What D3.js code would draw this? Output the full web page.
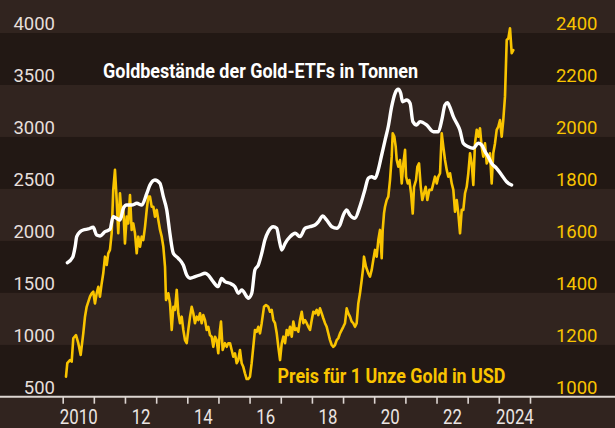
<!DOCTYPE html>
<html><head><meta charset="utf-8">
<script src="https://cdn.jsdelivr.net/npm/d3@7"></script>
<style>
html,body{margin:0;padding:0;background:#31241f;}
svg{display:block;}
</style></head>
<body>
<svg id="chart" width="615" height="428"></svg>
<script>
// ---------- DATA ----------
const leftTicks = [500, 1000, 1500, 2000, 2500, 3000, 3500, 4000];
const rightTicks = [1000, 1200, 1400, 1600, 1800, 2000, 2200, 2400];
const yearLabels = [[2010, "2010"], [2012, "12"], [2014, "14"], [2016, "16"], [2018, "18"], [2020, "20"], [2022, "22"], [2024, "2024"]];
const titleEtf = "Goldbestände der Gold-ETFs in Tonnen";
const titleGold = "Preis für 1 Unze Gold in USD";

// Gold-ETF holdings in tonnes [decimal year, tonnes]
const etfHoldings = [
[2010.15,1790],[2010.32,1841],[2010.40,1944],[2010.45,2040],[2010.56,2088],[2010.66,2104],[2010.82,2114],[2010.98,2130],
[2011.09,2056],[2011.20,2047],[2011.36,2088],[2011.52,2111],[2011.62,2232],[2011.73,2217],[2011.84,2201],[2011.95,2313],
[2012.05,2345],[2012.22,2345],[2012.38,2361],[2012.54,2345],[2012.70,2457],[2012.80,2537],[2012.96,2586],
[2013.12,2554],[2013.23,2425],[2013.34,2297],[2013.44,2073],[2013.55,1880],[2013.71,1832],[2013.87,1767],[2013.98,1671],
[2014.09,1640],[2014.25,1655],[2014.41,1671],[2014.57,1688],[2014.67,1671],[2014.83,1607],[2014.99,1559],
[2015.10,1639],[2015.21,1607],[2015.37,1591],[2015.53,1559],[2015.64,1495],[2015.75,1527],[2015.91,1462],[2015.96,1447],
[2016.07,1495],[2016.17,1719],[2016.28,1767],[2016.39,1880],[2016.49,2008],[2016.60,2088],[2016.76,2136],[2016.87,2121],[2016.95,2008],
[2017.03,1912],[2017.14,1976],[2017.30,2040],[2017.46,2073],[2017.62,2040],[2017.78,2121],[2017.94,2136],
[2018.10,2152],[2018.21,2184],[2018.35,2239],[2018.47,2201],[2018.64,2136],[2018.80,2121],[2018.90,2152],
[2019.01,2249],[2019.12,2297],[2019.22,2249],[2019.38,2217],[2019.54,2329],[2019.70,2489],[2019.81,2602],[2019.92,2617],
[2020.03,2602],[2020.13,2682],[2020.24,2826],[2020.35,2970],[2020.45,3098],[2020.56,3291],[2020.67,3420],[2020.77,3458],[2020.85,3420],[2020.91,3339],
[2021.04,3355],[2021.15,3324],[2021.24,3147],[2021.36,3115],[2021.47,3147],[2021.68,3115],[2021.90,3050],
[2022.06,3050],[2022.17,3163],[2022.27,3307],[2022.35,3329],[2022.43,3285],[2022.54,3195],[2022.65,3131],[2022.75,3067],[2022.86,2939],
[2023.02,2906],[2023.18,2891],[2023.34,2939],[2023.45,2922],[2023.56,2858],[2023.66,2810],[2023.77,2746],[2023.93,2698],
[2024.09,2634],[2024.25,2569],[2024.41,2537]
];

// Gold price in USD per ounce [decimal year, USD]
const goldPrice = [
[2010.106,1077],[2010.148,1129],[2010.234,1141],[2010.289,1135],[2010.340,1225],[2010.427,1237],[2010.501,1206],[2010.578,1161],
[2010.661,1244],[2010.716,1308],[2010.770,1346],[2010.876,1385],[2010.931,1398],[2010.982,1404],
[2011.037,1359],[2011.091,1398],[2011.143,1423],[2011.197,1385],[2011.252,1436],[2011.303,1475],[2011.358,1539],[2011.413,1507],
[2011.464,1552],[2011.518,1565],[2011.573,1629],[2011.624,1796],[2011.679,1873],[2011.734,1757],[2011.785,1629],[2011.840,1783],
[2011.894,1693],[2011.945,1731],[2012.000,1590],[2012.055,1693],[2012.106,1667],[2012.161,1776],[2012.215,1642],[2012.266,1667],
[2012.321,1629],[2012.376,1552],[2012.427,1616],[2012.482,1577],[2012.536,1616],[2012.587,1603],[2012.642,1654],[2012.697,1719],
[2012.748,1770],[2012.802,1770],[2012.857,1731],[2012.909,1731],[2012.963,1693],[2013.018,1719],[2013.069,1680],[2013.124,1642],
[2013.178,1616],[2013.230,1577],[2013.284,1500],[2013.316,1372],[2013.390,1398],[2013.445,1359],[2013.499,1257],[2013.551,1346],
[2013.605,1334],[2013.660,1411],[2013.711,1321],[2013.766,1283],[2013.820,1308],[2013.872,1257],[2013.926,1218],[2013.981,1206],
[2014.032,1257],[2014.087,1308],[2014.141,1346],[2014.193,1321],[2014.247,1283],[2014.302,1308],[2014.353,1295],[2014.408,1321],
[2014.462,1283],[2014.514,1314],[2014.568,1295],[2014.623,1257],[2014.674,1269],[2014.729,1237],[2014.783,1231],[2014.835,1192],
[2014.889,1231],[2014.944,1218],[2014.995,1167],[2015.050,1257],[2015.082,1289],[2015.136,1180],[2015.210,1206],[2015.265,1192],
[2015.316,1206],[2015.371,1206],[2015.425,1180],[2015.477,1154],[2015.531,1167],[2015.586,1129],[2015.637,1141],[2015.692,1180],
[2015.746,1129],[2015.798,1115],[2015.852,1090],[2015.907,1068],[2015.958,1068],[2016.013,1077],[2016.067,1129],[2016.119,1192],
[2016.173,1257],[2016.228,1250],[2016.279,1269],[2016.334,1244],[2016.388,1283],[2016.462,1346],[2016.526,1353],[2016.600,1346],
[2016.655,1327],[2016.709,1334],[2016.761,1295],[2016.815,1283],[2016.870,1244],[2016.921,1192],[2016.976,1141],[2017.031,1206],
[2017.082,1231],[2017.137,1206],[2017.191,1257],[2017.243,1237],[2017.297,1269],[2017.352,1231],[2017.403,1289],[2017.458,1257],
[2017.512,1263],[2017.563,1250],[2017.618,1295],[2017.673,1327],[2017.724,1283],[2017.779,1295],[2017.833,1283],[2017.884,1269],
[2017.939,1257],[2017.994,1295],[2018.045,1327],[2018.100,1321],[2018.154,1334],[2018.206,1314],[2018.260,1340],[2018.315,1321],
[2018.366,1302],[2018.421,1283],[2018.475,1269],[2018.526,1244],[2018.581,1218],[2018.636,1199],[2018.687,1192],[2018.741,1199],
[2018.796,1218],[2018.847,1225],[2018.902,1244],[2019.008,1269],[2019.063,1283],[2019.117,1340],[2019.168,1321],[2019.223,1308],
[2019.278,1289],[2019.329,1283],[2019.384,1269],[2019.438,1283],[2019.490,1359],[2019.544,1398],[2019.599,1449],[2019.650,1500],
[2019.673,1539],[2019.737,1500],[2019.811,1475],[2019.865,1462],[2019.920,1488],[2019.971,1526],[2020.026,1565],[2020.080,1539],
[2020.132,1603],[2020.186,1642],[2020.241,1533],[2020.273,1642],[2020.315,1706],[2020.347,1731],[2020.401,1757],[2020.453,1770],
[2020.507,1834],[2020.562,1924],[2020.594,2014],[2020.645,2001],[2020.690,1962],[2020.722,1911],[2020.774,1885],[2020.828,1911],
[2020.883,1821],[2020.934,1898],[2020.989,1950],[2021.021,1847],[2021.076,1821],[2021.127,1834],[2021.182,1783],[2021.236,1705],
[2021.278,1808],[2021.342,1834],[2021.384,1885],[2021.438,1898],[2021.493,1808],[2021.544,1757],[2021.599,1783],[2021.653,1808],
[2021.705,1757],[2021.769,1796],[2021.846,1796],[2021.898,1821],[2021.952,1847],[2022.007,1821],[2022.058,1847],[2022.113,1860],
[2022.167,2014],[2022.219,1962],[2022.273,1911],[2022.328,1873],[2022.379,1847],[2022.434,1860],[2022.488,1821],[2022.540,1796],
[2022.594,1712],[2022.649,1757],[2022.700,1706],[2022.755,1629],[2022.809,1719],[2022.861,1719],[2022.915,1783],[2022.970,1808],
[2023.021,1860],[2023.076,1937],[2023.130,1898],[2023.182,1815],[2023.236,1975],[2023.291,2027],[2023.342,2001],[2023.397,2033],
[2023.451,1962],[2023.502,1924],[2023.557,1975],[2023.612,1898],[2023.663,1911],[2023.718,1937],[2023.772,1821],[2023.823,1937],
[2023.878,1975],[2023.933,2027],[2023.984,2039],[2024.039,2065],[2024.093,2001],[2024.144,2065],[2024.199,2155],[2024.254,2373],
[2024.305,2379],[2024.360,2418],[2024.414,2322],[2024.466,2334]
];

// ---------- HELPERS ----------
function toDate(t){
  const y = Math.floor(t);
  const a = new Date(y,0,1), b = new Date(y+1,0,1);
  return new Date(+a + (t-y)*(b-a));
}

// ---------- CHART ----------
const W = 615, H = 428;
const svg = d3.select("#chart");
const COL_LIGHT = "#31241f", COL_DARK = "#221814";
const GOLD = "#f9c400";
const AXIS = "#ddd6d2";
const FONT = "Roboto, 'Open Sans', sans-serif";

const x = d3.scaleTime().domain([new Date(2010,0,1), new Date(2025,0,1)]).range([62.7, 530]);
const yL = d3.scaleLinear().domain([500, 4000]).range([396.7, 33]);
const yR = d3.scaleLinear().domain([1000, 2400]).range([396.7, 33]);

// background bands
svg.append("rect").attr("x",0).attr("y",0).attr("width",W).attr("height",H).attr("fill",COL_LIGHT);
const bandPairs = d3.pairs(leftTicks);
svg.append("g").selectAll("rect").data(bandPairs).join("rect")
  .attr("x",0).attr("width",W)
  .attr("y",d=>yL(d[1])).attr("height",d=>yL(d[0])-yL(d[1]))
  .attr("fill",(d,i)=> ((bandPairs.length-1-i)%2===0) ? COL_DARK : COL_LIGHT);

// left axis labels
const gL = svg.append("g").attr("transform","translate(55,0)")
  .call(d3.axisLeft(yL).tickValues(leftTicks).tickSize(0).tickFormat(d3.format("d")));
gL.select(".domain").remove();
gL.selectAll("text").attr("x",0).attr("dy",-3.5).attr("text-anchor","end")
  .attr("fill","#e6dfdb").style("font-family",FONT).style("font-size","18.5px");

// right axis labels
const gR = svg.append("g").attr("transform","translate(597.5,0)")
  .call(d3.axisRight(yR).tickValues(rightTicks).tickSize(0).tickFormat(d3.format("d")));
gR.select(".domain").remove();
gR.selectAll("text").attr("x",0).attr("dy",-3.5).attr("text-anchor","end")
  .attr("fill",GOLD).style("font-family",FONT).style("font-size","18.5px");

// lines
const lineGold = d3.line().x(d=>x(toDate(d[0]))).y(d=>yR(d[1]));
const lineEtf = d3.line().x(d=>x(toDate(d[0]))).y(d=>yL(d[1])).curve(d3.curveMonotoneX);

svg.append("path").datum(goldPrice).attr("d",lineGold)
  .attr("fill","none").attr("stroke",GOLD).attr("stroke-width",2.6)
  .attr("stroke-linejoin","round").attr("stroke-linecap","round");
svg.append("path").datum(etfHoldings).attr("d",lineEtf)
  .attr("fill","none").attr("stroke","#ffffff").attr("stroke-width",3.4)
  .attr("stroke-linejoin","round").attr("stroke-linecap","round");

// x axis
svg.append("rect").attr("x",0).attr("y",396.7).attr("width",W).attr("height",H-396.7).attr("fill",COL_LIGHT);
svg.append("line").attr("x1",0).attr("x2",W).attr("y1",396.7).attr("y2",396.7)
  .attr("stroke",AXIS).attr("stroke-width",2);
const gX = svg.append("g").attr("transform","translate(0,396.7)")
  .call(d3.axisBottom(x).ticks(d3.timeYear.every(1)).tickSize(7).tickFormat(""));
gX.select(".domain").remove();
gX.selectAll("line").attr("stroke",AXIS).attr("stroke-width",1.6);

const gXL = svg.append("g").attr("transform","translate(0,396.7)")
  .call(d3.axisBottom(x).tickValues(yearLabels.map(d=>new Date(d[0],6,2))).tickSize(0)
    .tickFormat((d,i)=>yearLabels[i][1]));
gXL.select(".domain").remove();
gXL.selectAll("text").attr("y",27.3).attr("dy",0)
  .attr("transform","scale(0.82,1)")
  .attr("fill","#ebe5e2").style("font-family",FONT).style("font-size","20.5px");

// series titles
svg.append("text").attr("x",103).attr("y",77.7).text(titleEtf)
  .attr("textLength",315).attr("lengthAdjust","spacingAndGlyphs")
  .attr("fill","#ffffff").style("font-family",FONT)
  .style("font-weight","bold").style("font-size","20px");
svg.append("text").attr("x",277.5).attr("y",382.5).text(titleGold)
  .attr("textLength",228).attr("lengthAdjust","spacingAndGlyphs")
  .attr("fill",GOLD).style("font-family",FONT)
  .style("font-weight","bold").style("font-size","19.5px");
</script>
</body></html>
